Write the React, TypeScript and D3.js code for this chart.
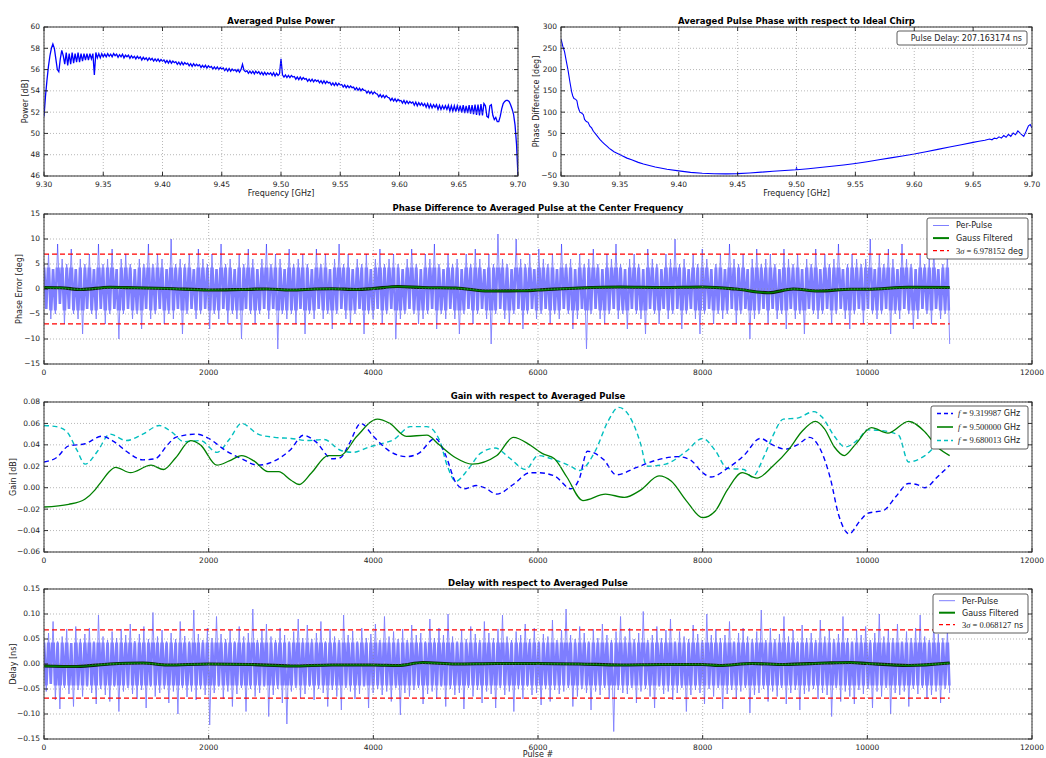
import React, { useEffect, useRef } from 'react'
import * as d3 from 'd3'

const W = 1046
const H = 758
const FONT = 'DejaVu Sans, sans-serif'
const MATH = 'Liberation Serif, DejaVu Serif, serif'

// Averaged pulse power [dB], 9.30 .. 9.70 GHz, evenly spaced
const powerDb = [
  51.6, 53.5, 55.0, 56.3, 57.3, 58.0, 58.4, 58.0, 57.0, 56.0,
  55.8, 57.0, 57.8, 57.3, 56.5, 57.6, 56.4, 57.5, 56.5, 57.6,
  56.6, 57.5, 56.7, 57.6, 56.7, 57.5, 56.8, 57.5, 56.9, 57.5,
  56.9, 57.5, 57.0, 57.5, 55.5, 57.6, 57.1, 57.5, 57.1, 57.5,
  57.2,
  57.45, 57.2, 57.5, 57.25, 57.45, 57.2, 57.5, 57.3,
  57.45, 57.15, 57.4, 57.2, 57.45, 57.1, 57.35, 57.2,
  57.35, 57.05, 57.3, 57.1, 57.25, 57.0, 57.25, 57.05,
  57.2, 56.9, 57.15, 56.95, 57.1, 56.85, 57.1, 56.9,
  57.05, 56.8, 57.0, 56.8, 57.0, 56.75, 56.95, 56.8,
  56.9, 56.65, 56.85, 56.6, 56.85, 56.6, 56.8, 56.65,
  56.75, 56.5, 56.7, 56.45, 56.7, 56.45, 56.65, 56.5,
  56.6, 56.35, 56.55, 56.3, 56.55, 56.35, 56.5, 56.35,
  56.45, 56.2, 56.4, 56.2, 56.4, 56.15, 56.35, 56.2,
  56.3, 56.05, 56.25, 56.05, 56.25, 56.0, 56.2, 56.05,
  56.15, 55.9, 56.1, 55.85, 56.1, 55.85, 56.05, 55.9,
  56.0, 55.8, 56.0, 55.75, 56.0, 56.5, 55.95, 55.8,
  55.9, 55.65, 55.85, 55.65, 55.85, 55.6, 55.85, 55.65,
  55.8, 55.55, 55.75, 55.5, 55.75, 55.5, 55.7, 55.55,
  55.7, 55.45, 55.7, 55.4, 55.65, 55.45, 55.6, 57.0,
  55.5, 55.3, 55.5, 55.25, 55.45, 55.25, 55.45, 55.3,
  55.35, 55.1, 55.3, 55.05, 55.3, 55.05, 55.25, 55.1,
  55.15, 54.9, 55.1, 54.9, 55.1, 54.85, 55.05, 54.9,
  55.0, 54.75, 54.95, 54.7, 54.95, 54.7, 54.9, 54.75,
  54.8, 54.55, 54.75, 54.5, 54.75, 54.5, 54.7, 54.55,
  54.6, 54.35, 54.55, 54.3, 54.5, 54.3, 54.45, 54.3,
  54.35, 54.1, 54.3, 54.05, 54.25, 54.0, 54.2, 54.05,
  54.05, 53.8, 54.0, 53.75, 53.95, 53.7, 53.9, 53.75,
  53.7, 53.45, 53.65, 53.4, 53.6, 53.35, 53.55, 53.4,
  53.35, 53.1, 53.3, 53.05, 53.25, 53.0, 53.2, 53.05,
  53.1, 52.85, 53.1, 52.8, 53.05, 52.8, 53.0, 52.85,
  52.95, 52.65, 52.95, 52.6, 52.9, 52.65, 52.85, 52.6,
  52.8, 52.45, 52.8, 52.4, 52.75, 52.4, 52.7, 52.45,
  52.7, 52.25, 52.65, 52.25, 52.6, 52.3, 52.6, 52.25,
  52.65, 52.1, 52.6, 52.1, 52.6, 52.05, 52.6, 52.1,
  52.6, 51.95, 52.65, 51.9, 52.6, 51.9, 52.65, 51.85,
  52.65, 51.8, 52.7, 51.75, 52.7, 51.7, 52.75, 51.7,
  52.8, 52.6, 51.6, 51.5, 52.6, 52.7, 51.7, 51.3,
  51.5, 51.1, 51.1, 51.6, 52.3, 52.8, 53.0, 53.1,
  53.1, 53.0, 52.7, 52.3, 51.8, 50.8, 49.0, 46.0,
]

// Averaged pulse phase vs ideal chirp
const phaseFreq = [
  9.3, 9.3015, 9.303, 9.3045, 9.306, 9.3075, 9.309, 9.31, 9.311, 9.3125,
  9.3135, 9.3145, 9.316, 9.3175, 9.319, 9.32, 9.3215, 9.323, 9.3245, 9.326,
  9.3275, 9.329, 9.331, 9.333, 9.335, 9.337, 9.339, 9.341, 9.343, 9.345,
  9.348, 9.3515, 9.356, 9.36, 9.3656, 9.37, 9.38, 9.39, 9.4, 9.41,
  9.42, 9.43, 9.44, 9.45, 9.46, 9.47, 9.48, 9.49, 9.4995, 9.5,
  9.5005, 9.51, 9.52, 9.53, 9.54, 9.55, 9.56, 9.57, 9.58, 9.59,
  9.6, 9.61, 9.62, 9.63, 9.64, 9.65, 9.655, 9.66, 9.664, 9.666,
  9.668, 9.67, 9.672, 9.674, 9.676, 9.678, 9.68, 9.682, 9.684, 9.686,
  9.688, 9.6905, 9.693, 9.695, 9.697, 9.6985, 9.7,
]
const phaseDeg = [
  272, 255, 242, 220, 198, 172, 148, 138, 132, 130,
  127, 112, 100, 98, 94, 83, 78, 76, 67, 63,
  55, 50, 43, 36, 30, 25, 20, 15, 11, 7,
  3, -2, -8, -12, -18, -22, -29, -34, -38, -41.5,
  -43.5, -44.8, -45, -44.5, -43, -41, -39, -37, -35.5, -31,
  -35.3, -33, -30, -27, -24, -20.5, -16.5, -12, -7.5, -3,
  1.5, 7, 12.5, 18, 23.5, 29, 31.5, 34, 37, 35,
  39, 37.5, 42, 39, 45, 41, 48, 43, 51, 47,
  56, 49, 43, 55, 68, 71, 63,
]

// per-pulse phase error [deg], 0 .. 11000 pulses
const phaseErr = [
  5, -4, 7, -6, 4, -5, 9, -3, 6, -7, 5, -4, 8, -5, 4, -6, 6, -9, 5, -4,
  7, -5, 4, -6, 9, -4, 5, -7, 6, -5, 8, -4, 4, -10, 6, -5, 7, -4, 5, -6,
  4, -5, 6, -8, 5, -4, 9, -6, 5, -5, 7, -4, 6, -7, 4, -5, 10, -6, 5, -4,
  6, -9, 5, -5, 7, -4, 4, -6, 8, -5, 6, -4, 5, -8, 7, -5, 4, -6, 9, -4,
  5, -7, 6, -5, 4, -6, 7, -10, 5, -4, 8, -5, 6, -7, 4, -5, 6, -4, 9, -6,
  5, -4, 7, -12, 6, -5, 4, -6, 8, -5, 5, -7, 6, -4, 7, -9, 5, -5, 4, -6,
  8, -4, 5, -6, 7, -5, 4, -8, 6, -5, 9, -4, 5, -6, 7, -7, 4, -5, 6, -4,
  5, -9, 7, -5, 4, -6, 6, -4, 8, -7, 5, -5, 6, -4, 7, -10, 5, -6, 4, -5,
  6, -4, 8, -5, 5, -7, 4, -6, 7, -5, 6, -4, 9, -8, 5, -5, 4, -6, 7, -4,
  5, -6, 6, -9, 4, -5, 7, -4, 5, -7, 8, -5, 6, -4, 4, -6, 7, -11, 5, -5,
  11, -4, 6, -6, 5, -7, 4, -5, 10, -4, 6, -8, 5, -5, 7, -4, 4, -6, 8, -5,
  6, -4, 5, -7, 7, -5, 4, -6, 9, -4, 5, -5, 6, -8, 4, -6, 7, -4, 5, -12,
  6, -5, 8, -4, 5, -6, 4, -7, 7, -5, 6, -4, 9, -6, 5, -5, 4, -8, 6, -4,
  7, -5, 5, -6, 4, -9, 8, -4, 6, -5, 5, -7, 4, -4, 7, -6, 6, -5, 10, -4,
  5, -8, 6, -5, 4, -4, 7, -6, 5, -9, 8, -5, 6, -4, 4, -7, 5, -5, 7, -6,
  4, -5, 9, -4, 6, -7, 5, -5, 7, -4, 4, -10, 6, -6, 8, -5, 5, -4, 6, -7,
  7, -4, 5, -6, 4, -5, 8, -8, 6, -4, 5, -6, 7, -5, 4, -9, 6, -4, 5, -5,
  8, -6, 4, -5, 7, -4, 5, -7, 6, -5, 9, -4, 4, -6, 5, -8, 7, -5, 6, -4,
  5, -7, 6, -4, 10, -5, 4, -6, 7, -5, 5, -4, 8, -9, 6, -5, 4, -6, 9, -4,
  6, -5, 5, -8, 4, -6, 7, -4, 5, -5, 6, -7, 8, -4, 4, -6, 5, -5, 7, -11,
]
const phaseGaussX = [0, 200, 450, 800, 1100, 1500, 2000, 2400, 2700, 3000, 3300, 3500, 3800, 4000, 4300, 4600, 5000, 5400, 5800, 6000, 6500, 7000, 7500, 8000, 8400, 8800, 9100, 9400, 9800, 10000, 10500, 11000]
const phaseGaussY = [0.3, 0.25, -0.1, 0.35, 0.25, 0.1, -0.2, -0.1, 0.0, -0.2, 0.0, 0.05, -0.1, 0.1, 0.5, 0.3, 0.2, -0.4, -0.35, -0.2, 0.2, 0.4, 0.3, 0.4, 0.0, -0.75, 0.0, -0.4, -0.05, -0.05, 0.35, 0.3]
const phaseSigma3 = 6.978152

// gain with respect to averaged pulse [dB]
const gainLoX = [0, 150, 300, 500, 700, 850, 1000, 1200, 1350, 1500, 1600, 1850, 2000, 2200, 2400, 2600, 2800, 3000, 3150, 3300, 3500, 3600, 3700, 3850, 4000, 4200, 4400, 4550, 4750, 4880, 5000, 5100, 5250, 5350, 5500, 5700, 5900, 6000, 6200, 6400, 6500, 6600, 6800, 6950, 7200, 7450, 7700, 7850, 8000, 8100, 8300, 8500, 8700, 8850, 9000, 9150, 9300, 9400, 9550, 9650, 9780, 9900, 10000, 10200, 10350, 10500, 10600, 10700, 10850, 11000]
const gainLo = [0.024, 0.028, 0.039, 0.041, 0.048, 0.043, 0.034, 0.026, 0.027, 0.04, 0.047, 0.05, 0.046, 0.035, 0.027, 0.021, 0.025, 0.036, 0.049, 0.043, 0.027, 0.028, 0.04, 0.06, 0.048, 0.034, 0.029, 0.032, 0.046, 0.03, 0.005, -0.001, 0.002, 0.0, -0.006, 0.003, 0.014, 0.014, 0.011, -0.001, 0.008, 0.034, 0.026, 0.012, 0.019, 0.026, 0.029, 0.026, 0.014, 0.01, 0.018, 0.03, 0.046, 0.04, 0.036, 0.04, 0.047, 0.04, 0.009, -0.025, -0.043, -0.032, -0.024, -0.021, -0.008, 0.004, 0.003, 0.0, 0.01, 0.021]
const gainMidX = [0, 300, 500, 620, 700, 780, 870, 1050, 1300, 1450, 1600, 1780, 1900, 2100, 2250, 2400, 2550, 2720, 2850, 3000, 3100, 3250, 3450, 3600, 3800, 4050, 4200, 4400, 4650, 4800, 5000, 5200, 5500, 5700, 5900, 6050, 6200, 6350, 6545, 6820, 7050, 7250, 7470, 7620, 7800, 8000, 8150, 8300, 8480, 8660, 8850, 9050, 9200, 9370, 9480, 9600, 9720, 9850, 10050, 10250, 10500, 10700, 10850, 11000]
const gainMid = [-0.018, -0.0155, -0.0105, -0.002, 0.006, 0.014, 0.019, 0.014, 0.021, 0.017, 0.028, 0.044, 0.04, 0.021, 0.025, 0.03, 0.025, 0.015, 0.015, 0.007, 0.003, 0.014, 0.03, 0.03, 0.048, 0.064, 0.06, 0.048, 0.049, 0.04, 0.028, 0.022, 0.03, 0.047, 0.04, 0.032, 0.027, 0.01, -0.012, -0.006, -0.009, -0.002, 0.011, 0.006, -0.012, -0.028, -0.022, -0.002, 0.014, 0.009, 0.02, 0.036, 0.052, 0.062, 0.055, 0.038, 0.03, 0.04, 0.056, 0.051, 0.062, 0.052, 0.038, 0.03]
const gainHiX = [0, 150, 280, 400, 500, 650, 800, 1000, 1200, 1400, 1550, 1700, 1900, 2100, 2250, 2400, 2600, 2800, 3000, 3200, 3400, 3600, 3750, 3950, 4100, 4250, 4450, 4650, 4800, 4900, 5000, 5150, 5300, 5480, 5650, 5850, 6000, 6200, 6400, 6500, 6700, 6850, 6980, 7100, 7250, 7320, 7550, 7800, 8000, 8150, 8300, 8500, 8600, 8750, 8850, 8980, 9150, 9350, 9450, 9600, 9730, 9900, 10000, 10200, 10380, 10500, 10700, 10850, 11000]
const gainHi = [0.058, 0.057, 0.052, 0.035, 0.022, 0.034, 0.05, 0.044, 0.05, 0.058, 0.052, 0.043, 0.044, 0.033, 0.045, 0.06, 0.05, 0.047, 0.046, 0.044, 0.045, 0.035, 0.033, 0.038, 0.041, 0.045, 0.057, 0.057, 0.045, 0.02, 0.006, 0.017, 0.032, 0.037, 0.028, 0.017, 0.03, 0.026, 0.02, 0.016, 0.035, 0.062, 0.075, 0.068, 0.04, 0.02, 0.022, 0.034, 0.046, 0.035, 0.018, 0.017, 0.01, 0.03, 0.048, 0.064, 0.065, 0.071, 0.066, 0.048, 0.038, 0.046, 0.054, 0.053, 0.049, 0.024, 0.03, 0.04, 0.045]
const gainLabels = ['9.319987', '9.500000', '9.680013']

// per-pulse delay [ps], 0 .. 11000 pulses
const delayPs = [
  48, -55, 62, -40, 85, -72, 45, -90, 55, -48, 70, -60, 42, -85, 75, -52, 50, -65, 60, -45,
  72, -58, 45, -80, 98, -50, 55, -62, 48, -75, 65, -45, 52, -95, 70, -55, 58, -48, 80, -60,
  46, -70, 60, -52, 75, -88, 50, -45, 103, -65, 55, -58, 68, -50, 45, -78, 62, -55, 50, -100,
  85, -48, 56, -66, 45, -55, 108, -72, 60, -50, 48, -62, 72, -122, 52, -58, 95, -45, 60, -70,
  50, -55, 68, -85, 45, -60, 75, -48, 55, -95, 62, -50, 110, -65, 48, -58, 70, -45, 80, -105,
  55, -62, 48, -50, 72, -78, 58, -120, 45, -55, 65, -48, 90, -68, 52, -60, 78, -45, 50, -72,
  62, -50, 85, -58, 45, -85, 70, -52, 55, -65, 48, -92, 98, -48, 58, -55, 66, -70, 45, -60,
  72, -45, 52, -88, 60, -58, 80, -50, 48, -62, 95, -55, 55, -75, 65, -48, 50, -102, 70, -58,
  48, -65, 78, -52, 58, -48, 62, -80, 45, -60, 90, -55, 52, -70, 72, -45, 58, -85, 100, -50,
  55, -62, 45, -58, 68, -90, 50, -48, 75, -65, 60, -52, 48, -78, 85, -55, 62, -60, 52, -88,
  70, -48, 98, -62, 55, -55, 48, -95, 65, -50, 58, -70, 80, -45, 50, -62, 72, -58, 45, -82,
  60, -50, 55, -75, 88, -52, 48, -60, 68, -55, 110, -48, 58, -85, 50, -65, 75, -50, 62, -58,
  45, -92, 70, -55, 52, -62, 80, -48, 58, -70, 48, -135, 65, -52, 95, -58, 55, -60, 72, -48,
  50, -78, 62, -55, 105, -50, 48, -65, 58, -88, 75, -45, 52, -60, 68, -55, 90, -72, 45, -58,
  65, -48, 55, -95, 50, -62, 78, -52, 60, -58, 48, -80, 100, -50, 58, -65, 70, -48, 52, -90,
  58, -60, 85, -52, 45, -70, 62, -55, 72, -48, 55, -98, 50, -62, 65, -58, 108, -50, 48, -75,
  72, -55, 50, -65, 60, -48, 95, -80, 55, -58, 68, -52, 45, -92, 78, -60, 52, -55, 62, -50,
  48, -70, 88, -58, 55, -62, 70, -105, 50, -48, 60, -75, 95, -55, 52, -65, 45, -80, 68, -52,
  58, -60, 75, -50, 48, -88, 62, -55, 100, -65, 55, -48, 70, -100, 52, -58, 80, -62, 45, -55,
  65, -85, 52, -50, 72, -60, 98, -48, 55, -70, 48, -62, 85, -55, 60, -78, 52, -50, 68, -58,
]
const delayGaussX = [0, 400, 800, 1200, 1500, 2000, 2500, 3000, 3500, 4000, 4300, 4600, 5000, 5500, 6000, 6500, 7000, 7500, 8000, 8200, 8600, 9000, 9500, 9800, 10000, 10500, 11000]
const delayGaussY = [-0.004, -0.005, 0.0, 0.002, -0.002, 0.0, -0.001, -0.004, -0.002, -0.002, -0.003, 0.003, 0.0, 0.001, 0.001, 0.0, -0.002, -0.001, -0.001, -0.003, 0.001, -0.001, 0.002, 0.003, 0.001, -0.003, 0.002]
const delaySigma3 = 0.068127

const N_PULSES = 11000

function panel(svg: any, p: any) {
  const x = d3.scaleLinear().domain(p.xDomain).range([p.x0, p.x1])
  const y = d3.scaleLinear().domain(p.yDomain).range([p.y1, p.y0])
  svg.append('clipPath').attr('id', p.id)
    .append('rect')
    .attr('x', p.x0).attr('y', p.y0)
    .attr('width', p.x1 - p.x0).attr('height', p.y1 - p.y0)

  const plot = svg.append('g').attr('clip-path', `url(#${p.id})`)
  p.draw(plot, x, y, svg)

  const xt = x.ticks(p.xCount)
  const yt = y.ticks(p.yCount)
  const ax = svg.append('g')

  // dotted grid
  ax.selectAll('line.gx').data(xt).join('line')
    .attr('x1', (d: number) => x(d)).attr('x2', (d: number) => x(d))
    .attr('y1', p.y0).attr('y2', p.y1)
    .attr('stroke', '#888').attr('stroke-width', 0.6).attr('stroke-dasharray', '1,2')
  ax.selectAll('line.gy').data(yt).join('line')
    .attr('y1', (d: number) => y(d)).attr('y2', (d: number) => y(d))
    .attr('x1', p.x0).attr('x2', p.x1)
    .attr('stroke', '#888').attr('stroke-width', 0.6).attr('stroke-dasharray', '1,2')

  // inward ticks on all sides
  const tk = 4
  xt.forEach((d: number) => {
    ax.append('line').attr('x1', x(d)).attr('x2', x(d)).attr('y1', p.y1).attr('y2', p.y1 - tk).attr('stroke', '#000').attr('stroke-width', 0.8)
    ax.append('line').attr('x1', x(d)).attr('x2', x(d)).attr('y1', p.y0).attr('y2', p.y0 + tk).attr('stroke', '#000').attr('stroke-width', 0.8)
    ax.append('text').attr('x', x(d)).attr('y', p.y1 + 10.5)
      .attr('text-anchor', 'middle').attr('font-size', 7.5).attr('font-family', FONT).attr('fill', '#222')
      .text(p.xFmt(d))
  })
  yt.forEach((d: number) => {
    ax.append('line').attr('y1', y(d)).attr('y2', y(d)).attr('x1', p.x0).attr('x2', p.x0 + tk).attr('stroke', '#000').attr('stroke-width', 0.8)
    ax.append('line').attr('y1', y(d)).attr('y2', y(d)).attr('x1', p.x1).attr('x2', p.x1 - tk).attr('stroke', '#000').attr('stroke-width', 0.8)
    ax.append('text').attr('x', p.x0 - 4).attr('y', y(d)).attr('dy', '0.32em')
      .attr('text-anchor', 'end').attr('font-size', 7.5).attr('font-family', FONT).attr('fill', '#222')
      .text(p.yFmt(d))
  })

  ax.append('rect')
    .attr('x', p.x0).attr('y', p.y0).attr('width', p.x1 - p.x0).attr('height', p.y1 - p.y0)
    .attr('fill', 'none').attr('stroke', '#333').attr('stroke-width', 1)

  ax.append('text')
    .attr('x', (p.x0 + p.x1) / 2).attr('y', p.y0 - 3)
    .attr('text-anchor', 'middle').attr('font-size', 8.5).attr('font-weight', 'bold')
    .attr('font-family', FONT).attr('fill', '#000')
    .text(p.title)

  if (p.xLabel) {
    ax.append('text')
      .attr('x', (p.x0 + p.x1) / 2).attr('y', p.y1 + p.xLabelDy)
      .attr('text-anchor', 'middle').attr('font-size', 8).attr('font-family', FONT).attr('fill', '#222')
      .text(p.xLabel)
  }
  ax.append('text')
    .attr('transform', `translate(${p.yLabelX},${(p.y0 + p.y1) / 2}) rotate(-90)`)
    .attr('dy', '0.35em')
    .attr('text-anchor', 'middle').attr('font-size', 8).attr('font-family', FONT).attr('fill', '#222')
    .text(p.yLabel)

  return { x, y }
}

function legend(svg: any, box: any, items: any[]) {
  const g = svg.append('g')
  g.append('rect')
    .attr('x', box.x).attr('y', box.y).attr('width', box.w).attr('height', box.h)
    .attr('rx', 2).attr('fill', 'white').attr('stroke', '#333').attr('stroke-width', 0.8)
  items.forEach((it, k) => {
    const cy = box.y + box.pad + k * box.row
    it.marks.forEach((m: any) => {
      g.append('line')
        .attr('x1', box.x + 6).attr('x2', box.x + 22).attr('y1', cy).attr('y2', cy)
        .attr('stroke', m.color).attr('stroke-width', m.width)
        .attr('stroke-opacity', m.opacity ?? 1)
        .attr('stroke-dasharray', m.dash ?? null)
    })
    const t = g.append('text')
      .attr('x', box.x + box.tx).attr('y', cy).attr('dy', '0.35em')
      .attr('font-size', 8).attr('font-family', FONT).attr('fill', '#222')
    it.parts.forEach((s: any) => {
      const ts = t.append('tspan').text(s.text)
      if (s.math) ts.attr('font-family', MATH).attr('font-size', 8.5)
      if (s.italic) ts.attr('font-style', 'italic')
    })
  })
}

// per-pulse trace: thin strokes for the spikes, and a wider stroke of the
// same path inside the dense core so the band reads as filled
function perPulse(g: any, svg: any, id: string, arr: number[], x: any, y: any, core: number, scale = 1) {
  const d = d3.line<number>()
    .x((_, i) => x((i * N_PULSES) / (arr.length - 1)))
    .y((v) => y(v * scale))(arr)
  svg.append('clipPath').attr('id', id)
    .append('rect')
    .attr('x', x(0) - 2).attr('y', y(core))
    .attr('width', x(N_PULSES) - x(0) + 4).attr('height', y(-core) - y(core))
  const grp = g.append('g').attr('opacity', 0.5)
  grp.append('path').attr('d', d).attr('fill', 'none')
    .attr('stroke', '#0000ff').attr('stroke-width', 0.9)
  grp.append('path').attr('d', d).attr('fill', 'none').attr('clip-path', `url(#${id})`)
    .attr('stroke', '#0000ff').attr('stroke-width', 2.6)
}

function gaussLine(g: any, xs: number[], ys: number[], x: any, y: any) {
  const line = d3.line<number>().x((_, i) => x(xs[i])).y((d) => y(d)).curve(d3.curveMonotoneX)
  g.append('path').attr('d', line(ys)).attr('fill', 'none').attr('stroke', '#0a200a').attr('stroke-width', 3.2)
  g.append('path').attr('d', line(ys)).attr('fill', 'none').attr('stroke', '#008000').attr('stroke-width', 1.4)
}

function hline(g: any, v: number, x: any, y: any) {
  g.append('line')
    .attr('x1', x(0)).attr('x2', x(N_PULSES)).attr('y1', y(v)).attr('y2', y(v))
    .attr('stroke', '#ff0000').attr('stroke-width', 1.3).attr('stroke-dasharray', '5,3')
}

export default function App() {
  const ref = useRef<SVGSVGElement>(null)

  useEffect(() => {
    const svg = d3.select(ref.current)
    svg.selectAll('*').remove()
    const intFmt = d3.format('d')
    const f2 = d3.format('.2f')

    // Averaged Pulse Power
    panel(svg, {
      id: 'c1', x0: 44, x1: 518, y0: 27, y1: 176,
      xDomain: [9.3, 9.7], yDomain: [46, 60], xCount: 8, yCount: 7,
      xFmt: f2, yFmt: intFmt,
      title: 'Averaged Pulse Power', xLabel: 'Frequency [GHz]', xLabelDy: 20,
      yLabel: 'Power [dB]', yLabelX: 25,
      draw: (g: any, x: any, y: any) => {
        const line = d3.line<number>()
          .x((_, i) => x(9.3 + (i * 0.4) / (powerDb.length - 1)))
          .y((d) => y(d))
        g.append('path').attr('d', line(powerDb)).attr('fill', 'none')
          .attr('stroke', '#0000ff').attr('stroke-width', 1.3)
      },
    })

    // Averaged Pulse Phase
    panel(svg, {
      id: 'c2', x0: 561, x1: 1032, y0: 27, y1: 176,
      xDomain: [9.3, 9.7], yDomain: [-50, 300], xCount: 8, yCount: 7,
      xFmt: f2, yFmt: intFmt,
      title: 'Averaged Pulse Phase with respect to Ideal Chirp', xLabel: 'Frequency [GHz]', xLabelDy: 20,
      yLabel: 'Phase Difference [deg]', yLabelX: 536,
      draw: (g: any, x: any, y: any) => {
        const line = d3.line<number>().x((_, i) => x(phaseFreq[i])).y((d) => y(d))
        g.append('path').attr('d', line(phaseDeg)).attr('fill', 'none')
          .attr('stroke', '#0000ff').attr('stroke-width', 1.1)
      },
    })
    const pd = svg.append('g')
    pd.append('rect').attr('x', 897).attr('y', 31).attr('width', 130).attr('height', 14)
      .attr('rx', 2).attr('fill', 'white').attr('stroke', '#333').attr('stroke-width', 0.8)
    pd.append('text').attr('x', 1022).attr('y', 38).attr('dy', '0.35em').attr('text-anchor', 'end')
      .attr('font-size', 8).attr('font-family', FONT).attr('fill', '#222')
      .text('Pulse Delay: 207.163174 ns')

    // Phase Difference per pulse
    panel(svg, {
      id: 'c3', x0: 44, x1: 1032, y0: 214, y1: 364,
      xDomain: [0, 12000], yDomain: [-15, 15], xCount: 6, yCount: 6,
      xFmt: intFmt, yFmt: intFmt,
      title: 'Phase Difference to Averaged Pulse at the Center Frequency',
      yLabel: 'Phase Error [deg]', yLabelX: 19,
      draw: (g: any, x: any, y: any, root: any) => {
        perPulse(g, root, 'core3', phaseErr, x, y, 4.3)
        gaussLine(g, phaseGaussX, phaseGaussY, x, y)
        hline(g, phaseSigma3, x, y)
        hline(g, -phaseSigma3, x, y)
      },
    })
    legend(svg, { x: 927, y: 218, w: 101, h: 41, pad: 7.5, row: 12.6, tx: 29 }, [
      { marks: [{ color: '#0000ff', width: 1, opacity: 0.5 }], parts: [{ text: 'Per-Pulse' }] },
      { marks: [{ color: '#008000', width: 2 }], parts: [{ text: 'Gauss Filtered' }] },
      {
        marks: [{ color: '#ff0000', width: 1.3, dash: '4,3' }],
        parts: [{ text: '3', math: true }, { text: 'σ', math: true, italic: true }, { text: ' = ' + phaseSigma3.toFixed(6), math: true }, { text: ' deg' }],
      },
    ])

    // Gain
    panel(svg, {
      id: 'c4', x0: 44, x1: 1032, y0: 402, y1: 552,
      xDomain: [0, 12000], yDomain: [-0.06, 0.08], xCount: 6, yCount: 7,
      xFmt: intFmt, yFmt: f2,
      title: 'Gain with respect to Averaged Pulse',
      yLabel: 'Gain [dB]', yLabelX: 13,
      draw: (g: any, x: any, y: any) => {
        const mk = (xs: number[]) => d3.line<number>().x((_, i) => x(xs[i])).y((d) => y(d)).curve(d3.curveMonotoneX)
        g.append('path').attr('d', mk(gainHiX)(gainHi)).attr('fill', 'none')
          .attr('stroke', '#00bfbf').attr('stroke-width', 1.4).attr('stroke-dasharray', '5,3.5')
        g.append('path').attr('d', mk(gainLoX)(gainLo)).attr('fill', 'none')
          .attr('stroke', '#0000ff').attr('stroke-width', 1.4).attr('stroke-dasharray', '5,3.5')
        g.append('path').attr('d', mk(gainMidX)(gainMid)).attr('fill', 'none')
          .attr('stroke', '#008000').attr('stroke-width', 1.3)
      },
    })
    const gStyles = [
      { color: '#0000ff', width: 1.4, dash: '4,3' },
      { color: '#008000', width: 1.6 },
      { color: '#00bfbf', width: 1.4, dash: '4,3' },
    ]
    legend(svg, { x: 931, y: 406, w: 97, h: 43, pad: 7.5, row: 13.5, tx: 27 },
      gainLabels.map((lab, k) => ({
        marks: [gStyles[k]],
        parts: [{ text: 'f', math: true, italic: true }, { text: ' = ' + lab, math: true }, { text: ' GHz' }],
      })))

    // Delay
    panel(svg, {
      id: 'c5', x0: 44, x1: 1032, y0: 589, y1: 739,
      xDomain: [0, 12000], yDomain: [-0.15, 0.15], xCount: 6, yCount: 6,
      xFmt: intFmt, yFmt: f2,
      title: 'Delay with respect to Averaged Pulse', xLabel: 'Pulse #', xLabelDy: 17.5,
      yLabel: 'Delay [ns]', yLabelX: 13,
      draw: (g: any, x: any, y: any, root: any) => {
        perPulse(g, root, 'core5', delayPs, x, y, 0.043, 0.001)
        gaussLine(g, delayGaussX, delayGaussY, x, y)
        hline(g, delaySigma3, x, y)
        hline(g, -delaySigma3, x, y)
      },
    })
    legend(svg, { x: 933, y: 594, w: 95, h: 39, pad: 6.7, row: 12, tx: 29 }, [
      { marks: [{ color: '#0000ff', width: 1, opacity: 0.5 }], parts: [{ text: 'Per-Pulse' }] },
      { marks: [{ color: '#008000', width: 2 }], parts: [{ text: 'Gauss Filtered' }] },
      {
        marks: [{ color: '#ff0000', width: 1.3, dash: '4,3' }],
        parts: [{ text: '3', math: true }, { text: 'σ', math: true, italic: true }, { text: ' = ' + delaySigma3.toFixed(6), math: true }, { text: ' ns' }],
      },
    ])
  }, [])

  return (
    <svg
      ref={ref}
      width={W}
      height={H}
      style={{ position: 'absolute', left: 0, top: 0, background: 'white' }}
    />
  )
}
